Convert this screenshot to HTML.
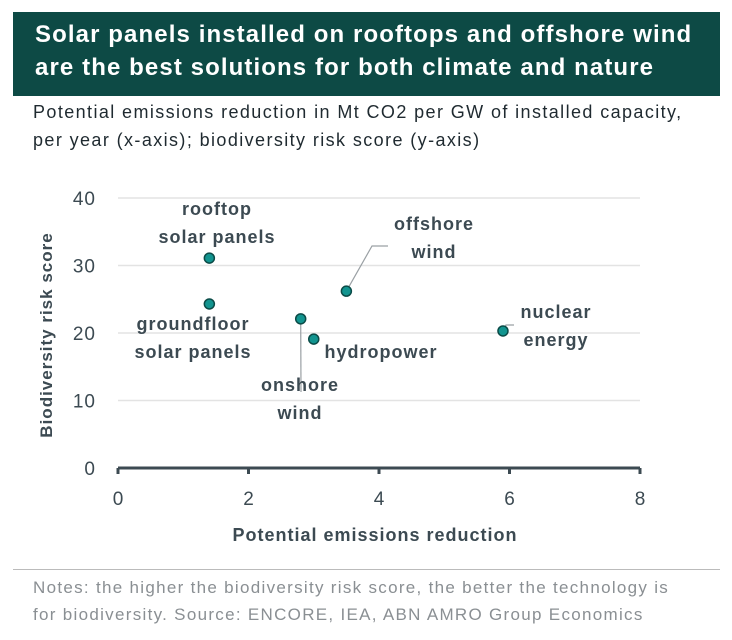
<!DOCTYPE html>
<html><head><meta charset="utf-8"><style>
body{margin:0;width:732px;height:640px;background:#fff;font-family:"Liberation Sans",sans-serif;position:relative;overflow:hidden}
#hdr{position:absolute;left:13px;top:12px;width:707px;height:84px;background:#0d4a45;color:#fff;font-weight:bold;font-size:24px;letter-spacing:1.1px;line-height:33px;padding:6px 0 0 22px;box-sizing:border-box;white-space:nowrap}
#sub{position:absolute;left:33px;top:98px;font-size:18px;letter-spacing:1.4px;line-height:28px;color:#1f2a30;white-space:nowrap}
#notes{position:absolute;left:33px;top:574px;font-size:17px;letter-spacing:1.3px;line-height:27px;color:#8a8f93;white-space:nowrap}
#rule{position:absolute;left:13px;top:569px;width:707px;height:1px;background:#bbb}
</style></head><body>
<div id="hdr">Solar panels installed on rooftops and offshore wind<br>are the best solutions for both climate and nature</div>
<div id="sub">Potential emissions reduction in Mt CO2 per GW of installed capacity,<br>per year (x-axis); biodiversity risk score (y-axis)</div>
<svg id="chart" width="732" height="640" style="position:absolute;left:0;top:0"></svg>
<div id="rule"></div>
<div id="notes">Notes: the higher the biodiversity risk score, the better the technology is<br>for biodiversity. Source: ENCORE, IEA, ABN AMRO Group Economics</div>
<script>
const names=["rooftop","groundfloor","onshore","hydro","offshore","nuclear"];
const xVals=[1.4,1.4,2.8,3.0,3.5,5.9];
const yVals=[31.1,24.3,22.1,19.1,26.2,20.3];
const xTicks=[0,2,4,6,8];
const yTicks=[0,10,20,30,40];
const NS="http://www.w3.org/2000/svg";
const svg=document.getElementById('chart');
const X=v=>118+v*65.25, Y=v=>468-v*6.75;
function mk(t,a,txt){const e=document.createElementNS(NS,t);for(const k in a)e.setAttribute(k,a[k]);if(txt!==undefined)e.textContent=txt;svg.appendChild(e);return e;}
yTicks.forEach(t=>{
 if(t>0){const g=mk('line',{x1:118,x2:640,y1:Y(t),y2:Y(t),stroke:'#e3e3e3','stroke-width':1.5});
 
 }
 const l=mk('text',{x:96,y:Y(t)+7,'text-anchor':'end','font-size':19,'letter-spacing':1,fill:'#3c4a52'},t);
 
 
});
const ax=mk('line',{x1:118,x2:640,y1:468,y2:468,stroke:'#3c4a52','stroke-width':3});


xTicks.forEach(t=>{
 const k=mk('line',{x1:X(t),x2:X(t),y1:468,y2:474,stroke:'#3c4a52','stroke-width':3});
 
 
 const l=mk('text',{x:X(t),y:505,'text-anchor':'middle','font-size':19,fill:'#3c4a52'},t);
 
 
});
const yt=mk('text',{x:0,y:0,transform:'translate(52,335) rotate(-90)','text-anchor':'middle','font-size':17,'letter-spacing':1,'font-weight':'bold',fill:'#3c4a52'},'Biodiversity risk score');


const xt=mk('text',{x:375,y:541,'text-anchor':'middle','font-size':18,'letter-spacing':1,'font-weight':'bold',fill:'#3c4a52'},'Potential emissions reduction');


[[X(3.5),Y(26.2),372,246,388,246],[X(2.8),Y(22.1),301,392,301,392],[X(5.9),Y(20.3),506,325,514,325]].forEach((p,i)=>{
 const pl=mk('polyline',{points:`${p[0]},${p[1]} ${p[2]},${p[3]} ${p[4]},${p[5]}`,fill:'none',stroke:'#9aa0a4','stroke-width':1.2});
 
 
});
names.forEach((n,i)=>{
 const c=mk('circle',{cx:X(xVals[i]),cy:Y(yVals[i]),r:5,fill:'#12948f',stroke:'#0b4b47','stroke-width':1.5});
 
 
});
const labels=[["rooftop",217,215],["solar panels",217,243],["offshore",434,230],["wind",434,258],["groundfloor",193,330],["solar panels",193,358],["hydropower",381,358],["nuclear",556,318],["energy",556,346],["onshore",300,391],["wind",300,419]];
labels.forEach((l,i)=>{
 const t=mk('text',{x:l[1],y:l[2],'text-anchor':'middle','font-size':18,'letter-spacing':1,'font-weight':'bold',fill:'#3c4a52'},l[0]);
 
 
});
</script>
</body></html>
